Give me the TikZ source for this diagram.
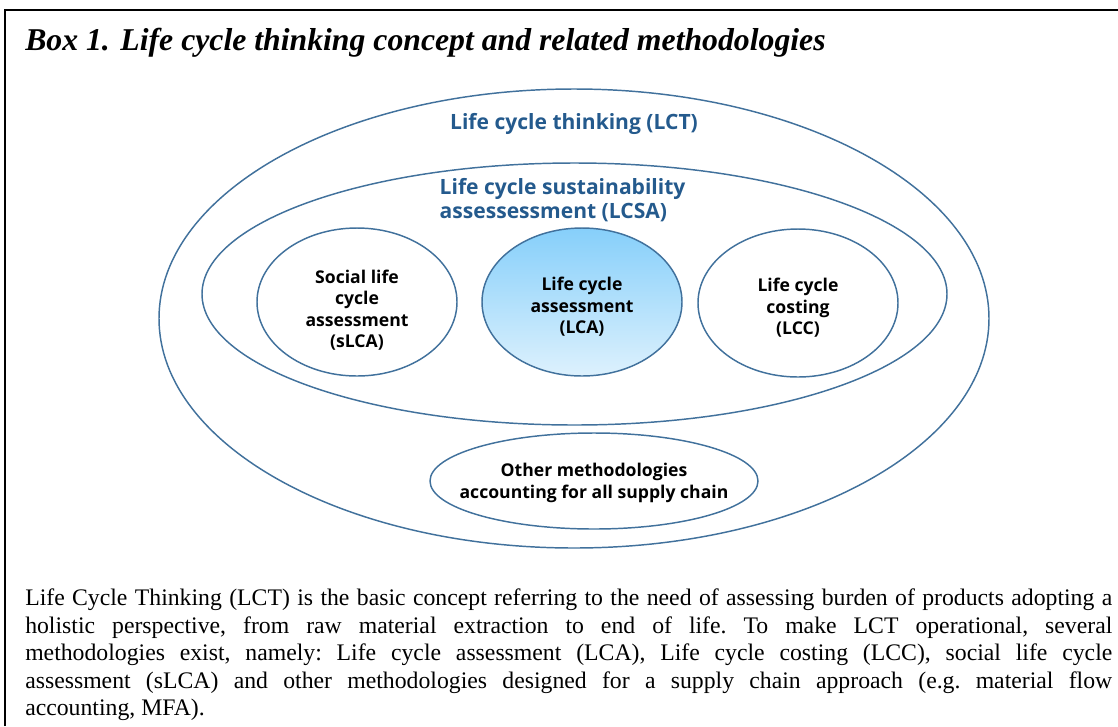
\documentclass[tikz,border=0pt]{standalone}
\usepackage{fontspec}
\setmainfont{Liberation Serif}
\newfontfamily\labelfont{Open Sans}
\usetikzlibrary{shapes.geometric}

\definecolor{ringblue}{HTML}{41719C}
\definecolor{headblue}{HTML}{245A8D}
\definecolor{lcatop}{HTML}{86CFFA}
\definecolor{lcabot}{HTML}{DDF1FD}

\begin{document}
\begin{tikzpicture}[x=0.75pt, y=-0.75pt,
    ring/.style={ellipse, draw=ringblue, line width=1.1pt, inner sep=0pt},
    tag/.style={font=\labelfont\bfseries\fontsize{13.2}{16.1}\selectfont, align=center},
    headtag/.style={font=\labelfont\bfseries\fontsize{15.8}{18.3}\selectfont, text=headblue}]
    \useasboundingbox (0,0) rectangle (1118,726);

    % Moldura
    \draw[line width=1.5pt] (5,726) -- (5,10) -- (1118,10);
    \node[anchor=base west, inner sep=0pt, font=\bfseries\itshape\fontsize{23.8}{28}\selectfont] (title) at (25,50)
        {Box 1. Life cycle thinking concept and related methodologies};

    % Elipses
    \node[ring, minimum width=830*0.75pt, minimum height=459*0.75pt] (lct) at (574,318.5) {};
    \node[ring, minimum width=745*0.75pt, minimum height=262*0.75pt] (lcsa) at (574.5,294) {};
    \node[ring, minimum width=200*0.75pt, minimum height=148*0.75pt] (slca) at (357,302) {};
    \node[ring, minimum width=200*0.75pt, minimum height=148*0.75pt, top color=lcatop, bottom color=lcabot] (lca) at (582,302) {};
    \node[ring, minimum width=200*0.75pt, minimum height=148*0.75pt] (lcc) at (798,303) {};
    \node[ring, minimum width=328*0.75pt, minimum height=96*0.75pt] (other) at (594,481) {};

    % Rotulos
    \node[tag, yshift=-6pt] (slcatag) at (slca) {Social life\\cycle\\assessment\\(sLCA)};
    \node[tag, yshift=-3.5pt] (lcatag) at (lca) {Life cycle\\assessment\\(LCA)};
    \node[tag, yshift=-3.5pt] (lcctag) at (lcc) {Life cycle\\costing\\(LCC)};
    \node[tag, yshift=-1.5pt] (othertag) at (other) {Other methodologies\\accounting for all supply chain};
    \node[headtag] (lcttag) at (574,124) {Life cycle thinking (LCT)};
    \node[headtag, anchor=west, align=left] (lcsatag) at (435,200)
        {Life cycle sustainability\\assessessment (LCSA)};

    % Texto
    \node[anchor=north west, inner sep=0pt, text width=1087*0.75pt, align=justify,
        font=\fontsize{17.8}{20.6}\selectfont] (body) at (25,589)
        {\frenchspacing\tolerance=9999\spaceskip=0.25em plus 0.4em minus 0.12em
        Life Cycle Thinking (LCT) is the basic concept referring to the need of assessing burden of products adopting a\linebreak
        holistic perspective, from raw material extraction to end of life. To make LCT operational, several\linebreak
        methodologies exist, namely: Life cycle assessment (LCA), Life cycle costing (LCC), social life cycle\linebreak
        assessment (sLCA) and other methodologies designed for a supply chain approach (e.g. material flow\linebreak
        accounting, MFA).};
\end{tikzpicture}
\end{document}
